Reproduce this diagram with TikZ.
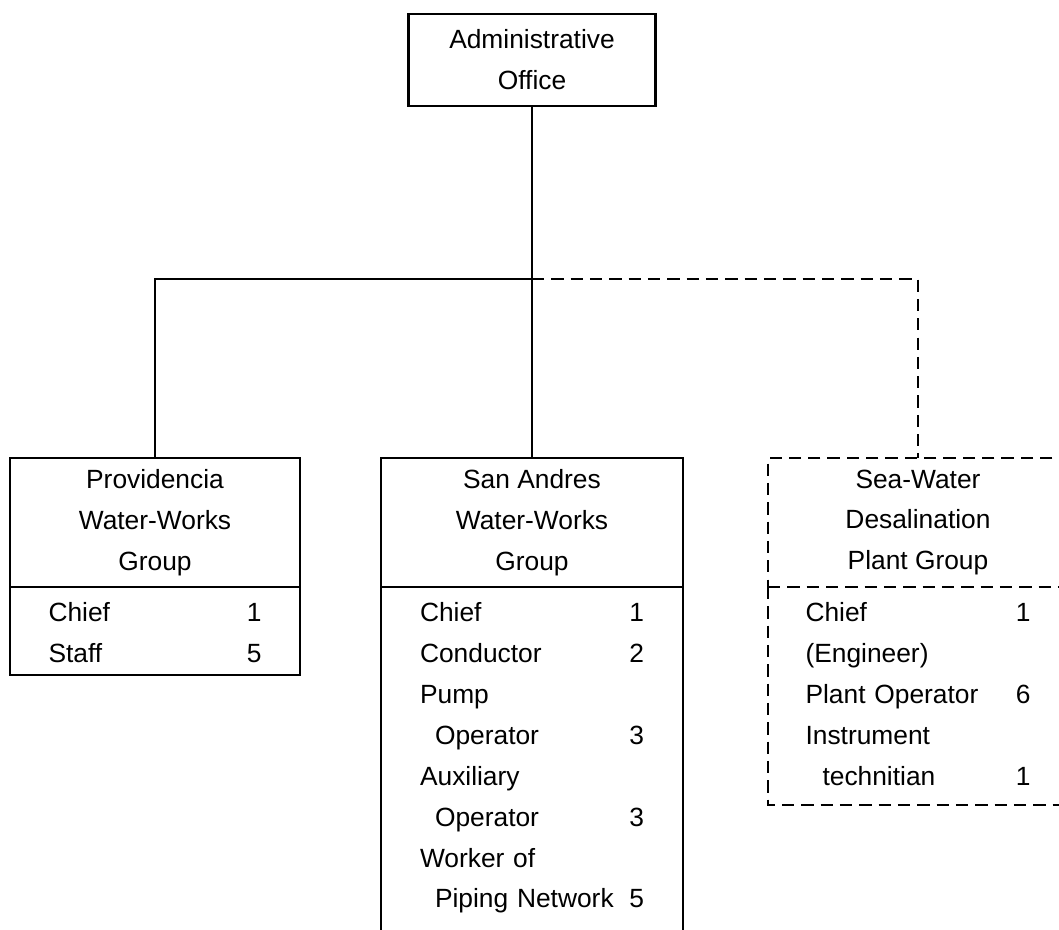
\documentclass[tikz,border=0pt]{standalone}
\usepackage{fontspec}
\setmainfont{Liberation Sans}
\usetikzlibrary{positioning}
\tikzset{
  unitbox/.style={rectangle,draw,line width=1.4pt,align=center,inner sep=0pt,outer sep=0pt},
  staffbox/.style={rectangle,draw,line width=1.4pt,inner sep=0pt,outer sep=0pt},
  stafflist/.style={anchor=north,align=left,inner xsep=0pt,inner ysep=0.3cm},
  planned/.style={dash pattern=on 7pt off 4pt},
  link/.style={line width=1.4pt},
  optlink/.style={line width=1.4pt,dash pattern=on 7pt off 4pt}
}

\begin{document}
\begin{tikzpicture}[x=0.02cm,y=-0.02cm,
  every node/.style={font=\fontsize{15pt}{23.3pt}\selectfont}]

\useasboundingbox (0,0) rectangle (1059,930);
\clip (0,0) rectangle (1059,930);

% Head of the organisation
\node[unitbox,minimum width=4.94cm,minimum height=1.84cm] (admin) at (532,60)
  {Administrative\\Office};

% Groups
\node[unitbox,minimum width=5.8cm,minimum height=2.58cm] (prov) at (155,522.5)
  {Providencia\\Water-Works\\Group};
\node[unitbox,minimum width=6.04cm,minimum height=2.58cm] (sanandres) at (532,522.5)
  {San Andres\\Water-Works\\Group};
\node[unitbox,planned,minimum width=6cm,minimum height=2.58cm] (seawater) at (918,522.5)
  {Sea-Water\\Desalination\\Plant Group};

% Staff boxes under each group
\node[staffbox,minimum width=5.8cm,minimum height=1.76cm,below=0pt of prov] (provstaff) {};
\node[staffbox,minimum width=6.04cm,minimum height=7.6cm,below=0pt of sanandres] (sastaff) {};
\node[staffbox,draw=none,minimum width=6cm,minimum height=4.36cm,below=0pt of seawater] (swstaff) {};
\draw[optlink] (swstaff.north west) |- (swstaff.south east) -- (swstaff.north east);

\node[stafflist,text width=4.26cm] (provlist) at (provstaff.north)
  {Chief\hfill 1\\
   Staff\hfill 5};
\node[stafflist,text width=4.48cm] (salist) at (sastaff.north)
  {Chief\hfill 1\\
   Conductor\hfill 2\\
   Pump\\
   \hspace*{0.3cm}Operator\hfill 3\\
   Auxiliary\\
   \hspace*{0.3cm}Operator\hfill 3\\
   Worker of\\
   \hspace*{0.3cm}Piping Network\hfill 5};
\node[stafflist,text width=4.5cm] (swlist) at (swstaff.north)
  {Chief\hfill 1\\
   (Engineer)\\
   Plant Operator\hfill 6\\
   Instrument\\
   \hspace*{0.34cm}technitian\hfill 1};

% Connectors
\coordinate (bus) at (532,279);
\draw[link] (admin) -- (bus) -| (prov);
\draw[link] (bus) -- (sanandres);
\draw[optlink] (bus) -| (seawater);

\end{tikzpicture}
\end{document}
